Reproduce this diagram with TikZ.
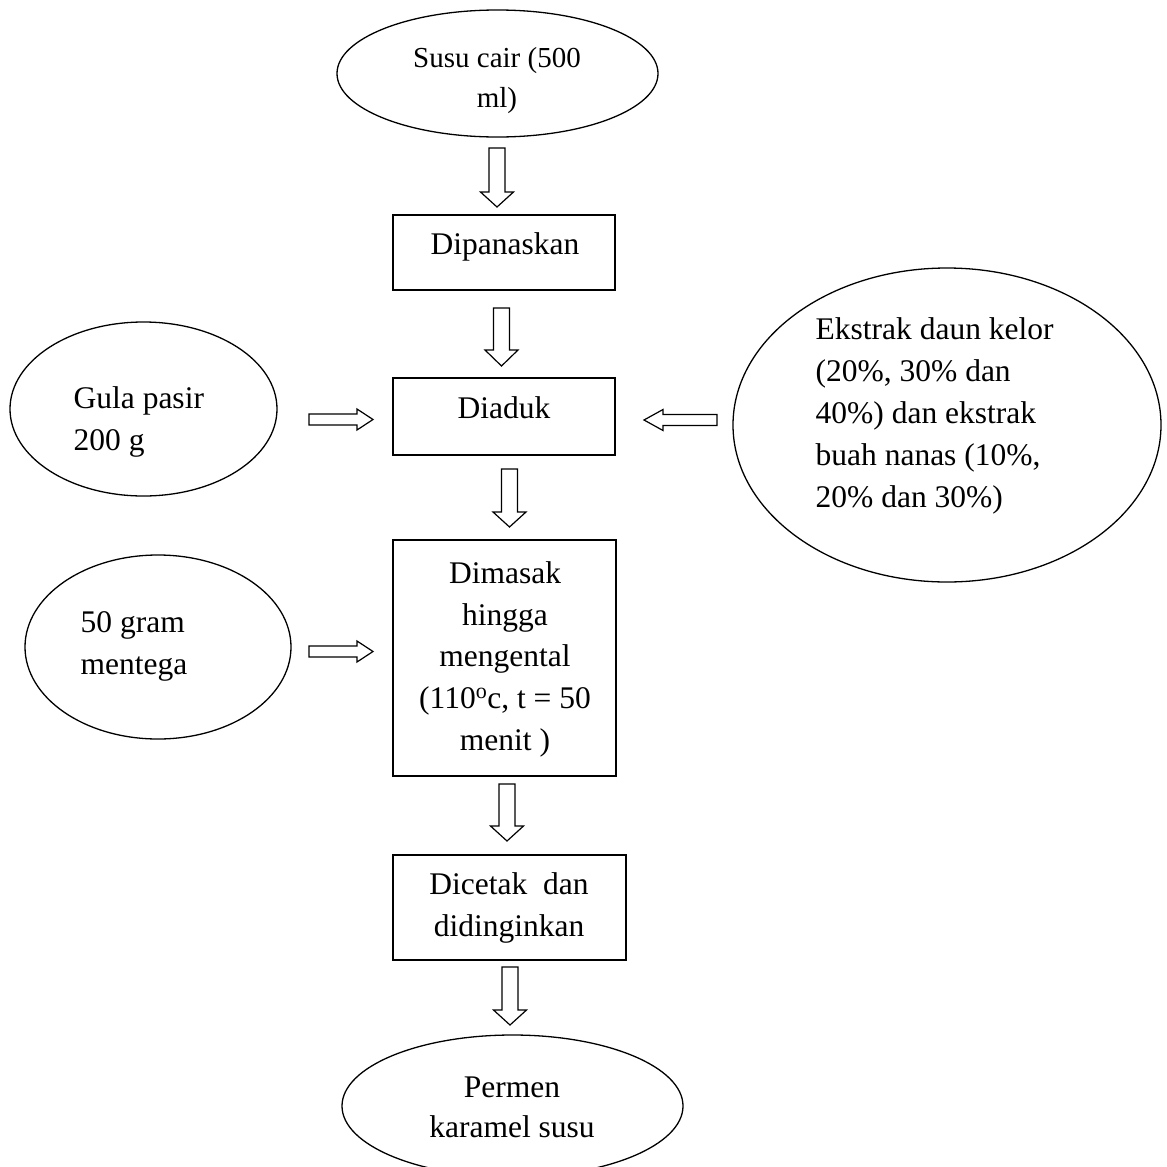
\documentclass[tikz,border=0pt]{standalone}
\usepackage{fontspec}
\setmainfont{Liberation Serif}
\usetikzlibrary{shapes.geometric}
\newcommand\downblock[4]{% cx, top, headbase, tip
  \draw[blockarrow] (#1-8,#2) -- (#1+8,#2) -- (#1+8,#3) -- (#1+16.5,#3) -- (#1,#4) -- (#1-16.5,#3) -- (#1-8,#3) -- cycle;}
\newcommand\sideblock[4]{% cy, start, headbase, tip
  \draw[blockarrow] (#2,#1-5.5) -- (#3,#1-5.5) -- (#3,#1-10.5) -- (#4,#1) -- (#3,#1+10.5) -- (#3,#1+5.5) -- (#2,#1+5.5) -- cycle;}
\begin{document}
\begin{tikzpicture}[x=1pt,y=-1pt,line width=1.3pt,
  procbox/.style={draw,rectangle,inner sep=0pt},
  oval/.style={draw,ellipse,inner sep=0pt},
  blockarrow/.style={draw,line width=1.2pt,line join=miter},
  txt/.style={font=\fontsize{31.5}{42}\selectfont,inner sep=0pt,anchor=base},
  txtl/.style={font=\fontsize{31.5}{42}\selectfont,inner sep=0pt,anchor=base west},
  smalltxt/.style={font=\fontsize{29}{40}\selectfont,inner sep=0pt,anchor=base}]
\useasboundingbox[fill=white] (0,0) rectangle (1167,1167);

% ellipses
\node[oval,minimum width=321,minimum height=127] (susu) at (497.5,73.5) {};
\node[smalltxt] (susu1) at (497,67) {Susu cair (500};
\node[smalltxt] (susu2) at (497,107) {ml)};

\node[oval,minimum width=267,minimum height=174] (gula) at (143.5,409) {};
\node[txtl] (gula1) at (73,408) {Gula pasir};
\node[txtl] (gula2) at (73,450) {200 g};

\node[oval,minimum width=428,minimum height=314] (ekstrak) at (947,425) {};
\node[txtl] (ek1) at (815,339) {Ekstrak daun kelor};
\node[txtl] (ek2) at (815,381) {(20\%, 30\% dan};
\node[txtl] (ek3) at (815,423) {40\%) dan ekstrak};
\node[txtl] (ek4) at (815,465) {buah nanas (10\%,};
\node[txtl] (ek5) at (815,507) {20\% dan 30\%)};

\node[oval,minimum width=266,minimum height=184] (mentega) at (158,647) {};
\node[txtl] (men1) at (80,632) {50 gram};
\node[txtl] (men2) at (80,674) {mentega};

\node[oval,minimum width=341,minimum height=142] (permen) at (512.5,1106) {};
\node[txt] (per1) at (512,1097) {Permen};
\node[txt] (per2) at (512,1137) {karamel susu};

% boxes
\node[procbox,minimum width=222,minimum height=75] (panas) at (504,252.5) {};
\node[txt] (panast) at (505,254) {Dipanaskan};

\node[procbox,minimum width=222,minimum height=77] (aduk) at (504,416.5) {};
\node[txt] (adukt) at (504,418) {Diaduk};

\node[procbox,minimum width=223,minimum height=236] (masak) at (504.5,658) {};
\node[txt] (masak1) at (505,583) {Dimasak};
\node[txt] (masak2) at (505,625) {hingga};
\node[txt] (masak3) at (505,666) {mengental};
\node[txt] (masak4) at (505,708) {(110\textsuperscript{o}c, t = 50};
\node[txt] (masak5) at (505,750) {menit )};

\node[procbox,minimum width=233,minimum height=105] (cetak) at (509.5,907.5) {};
\node[txt] (cetak1) at (509,894) {Dicetak\ \ dan};
\node[txt] (cetak2) at (509,936) {didinginkan};

% block arrows
\downblock{497}{148}{192}{207}
\downblock{501.5}{308}{350}{366}
\downblock{509.5}{469}{512}{527}
\downblock{507}{784}{826}{841}
\downblock{510}{967}{1010}{1025}
\sideblock{419.5}{309}{357}{373}
\sideblock{651.5}{309}{357}{373}
\sideblock{420}{717}{663}{644}
\end{tikzpicture}
\end{document}
